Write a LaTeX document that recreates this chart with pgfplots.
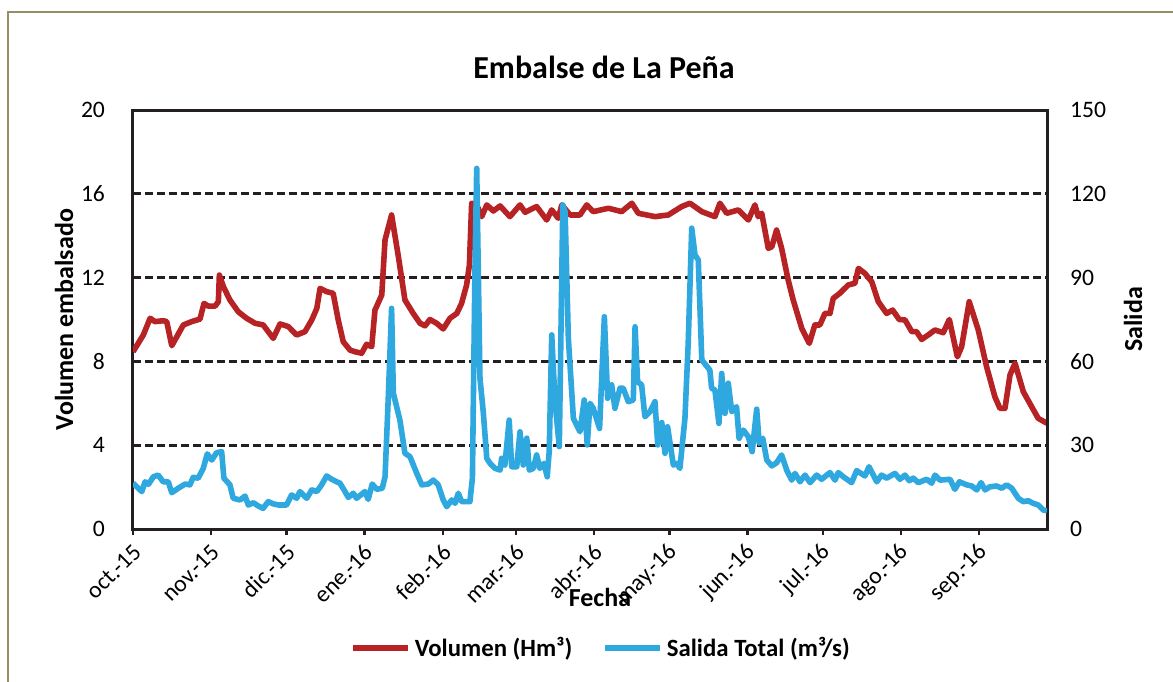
\documentclass[border=0pt]{standalone}
\usepackage{fontspec}
\setmainfont{Carlito}
\usepackage{pgfplots}
\usepackage{pgfplotstable}
\pgfplotsset{compat=1.18}

\definecolor{vol}{RGB}{183,34,36}
\definecolor{sal}{RGB}{46,168,222}
\definecolor{marco}{RGB}{150,143,100}
\definecolor{eje}{RGB}{35,31,32}

% dias desde 1-oct-2015, volumen (hm3)
\pgfplotstableread{
d v
0 8.46
4.1 9.26
6.8 10.06
8.7 9.90
12.0 9.94
13.4 9.90
15.4 8.75
17.4 9.18
20.0 9.74
23.3 9.90
26.6 10.02
28.2 10.77
29.9 10.64
32.6 10.64
33.9 10.85
34.3 12.12
35.9 11.57
38.5 10.93
41.8 10.37
45.1 10.06
48.5 9.82
51.7 9.74
55.7 9.10
58.4 9.79
61.7 9.66
65.0 9.26
68.3 9.42
71.0 9.98
73.0 10.53
74.3 11.49
76.9 11.33
79.5 11.25
81.5 9.98
83.5 8.94
86.2 8.54
88.2 8.46
90.8 8.39
92.8 8.82
94.8 8.70
96.1 10.45
98.8 11.17
100.1 13.80
102.7 14.99
105.4 13.00
108.0 10.93
111.3 10.29
114.0 9.82
116.0 9.70
117.9 10.00
120.6 9.82
123.2 9.55
125.9 10.06
128.6 10.29
130.5 10.77
132.5 11.65
133.6 12.60
134.5 15.55
136.5 15.47
138.5 14.91
140.5 15.47
143.1 15.18
145.8 15.42
149.7 14.91
153.7 15.47
155.7 15.12
160.3 15.39
164.3 14.75
166.3 15.23
168.9 14.83
170.3 15.47
173.6 14.99
177.5 14.99
180.2 15.47
182.8 15.15
188.8 15.31
194.1 15.15
198.1 15.55
200.7 15.07
207.3 14.91
212.6 14.99
217.9 15.39
221.2 15.55
225.9 15.15
231.1 14.91
233.1 15.55
235.8 15.07
240.4 15.23
244.4 14.75
247.0 15.47
248.3 14.91
249.7 15.07
252.3 13.40
253.7 13.47
255.6 14.27
257.6 13.40
260.2 11.89
262.2 10.93
265.6 9.58
268.6 8.86
270.8 9.74
272.8 9.74
274.8 10.29
276.8 10.29
278.1 11.01
280.7 11.25
284.1 11.65
286.7 11.73
288.1 12.44
290.7 12.20
293.4 11.80
296.0 10.85
299.3 10.29
301.7 10.45
304.3 10.00
306.6 9.98
309.3 9.42
311.2 9.42
313.2 9.05
315.8 9.26
318.5 9.50
321.8 9.37
324.2 10.00
327.4 8.22
329.1 8.70
332.1 10.85
335.7 9.50
339.0 7.75
342.3 6.31
344.3 5.76
346.3 5.76
348.3 7.35
350.3 7.91
353.6 6.55
356.9 5.84
359.5 5.28
363.0 5.05
}\volumen

% dias desde 1-oct-2015, salida total (m3/s)
\pgfplotstableread{
d s
0 16.4
3.5 13.4
4.8 16.9
6.1 16.0
8.1 18.7
10.0 19.3
12.0 16.9
14.0 16.9
15.4 13.0
18.0 14.6
20.7 16.1
22.6 15.8
23.9 18.5
25.9 18.2
27.9 21.7
29.5 26.9
31.3 24.7
33.2 27.3
35.2 27.7
36.1 18.2
38.5 15.8
39.8 11.0
42.5 10.4
44.5 11.8
45.8 8.6
47.8 9.4
49.8 8.2
51.7 7.4
53.7 9.8
55.7 9.0
57.7 8.6
61.0 8.6
63.0 12.2
65.0 11.0
66.3 13.4
69.0 11.0
71.0 14.0
73.0 13.4
74.9 15.8
76.9 19.0
78.9 17.8
80.9 16.9
82.2 16.4
84.2 13.4
85.5 11.3
87.5 12.8
88.8 11.0
92.1 13.4
93.4 10.6
95.0 16.1
96.8 14.2
99.0 14.6
100.1 18.7
101.4 47.4
102.7 79.0
103.4 48.6
106.0 39.0
108.0 27.1
110.0 25.9
112.7 19.9
114.7 15.8
117.3 16.1
119.3 17.5
121.2 15.8
123.2 10.4
124.6 8.0
126.6 10.4
127.9 9.2
129.2 12.8
130.5 9.8
133.8 9.8
134.8 18.2
135.8 92.1
136.5 129.1
137.8 53.9
139.1 42.0
140.5 25.3
141.8 23.5
143.8 21.7
145.8 21.1
146.4 25.3
147.7 22.9
149.4 39.0
150.4 22.3
152.4 22.3
153.7 34.8
155.0 22.9
156.4 32.5
157.4 21.1
159.0 21.7
160.3 26.5
161.6 21.7
163.2 23.5
164.5 18.7
165.3 27.7
166.3 69.5
167.6 45.6
169.3 29.5
170.7 116.0
171.6 113.6
172.9 68.3
174.9 39.6
177.5 34.8
179.2 46.2
180.4 30.1
181.5 45.0
182.8 43.2
183.9 40.0
185.3 36.0
187.2 76.0
188.5 46.8
190.1 51.6
191.4 43.2
193.4 50.4
194.7 50.4
196.7 45.6
198.7 46.2
199.4 72.4
200.4 52.7
202.0 51.6
203.3 40.2
205.3 42.0
207.3 45.6
208.4 30.1
210.0 38.1
211.3 27.1
212.3 36.6
214.6 22.9
215.9 23.5
217.2 21.7
219.2 39.6
220.5 66.5
221.9 107.7
223.2 98.1
224.5 96.3
225.9 60.5
229.1 56.9
229.8 50.4
231.1 49.8
232.7 37.8
233.8 55.7
235.1 41.4
236.4 52.2
237.8 42.0
239.7 43.8
240.7 32.5
242.4 35.4
244.4 33.0
245.9 27.7
247.7 42.9
248.7 30.7
250.1 32.5
251.7 24.7
253.7 22.6
255.6 23.7
257.6 26.5
259.6 21.1
261.6 17.5
262.9 19.9
264.9 16.9
266.9 19.3
268.9 16.6
271.5 19.3
273.5 17.8
276.8 20.2
278.8 17.5
280.1 20.2
282.1 18.7
285.4 16.6
287.4 20.9
290.7 19.0
292.3 22.3
295.4 16.9
297.3 19.3
299.3 18.2
302.6 19.9
304.6 17.8
306.6 19.3
308.3 17.3
309.9 18.2
311.9 16.6
315.2 17.8
317.2 16.4
318.5 19.3
320.5 17.5
324.5 17.8
326.4 14.2
328.2 16.9
331.1 15.8
333.1 15.4
335.1 14.0
336.8 16.6
338.4 14.0
340.3 15.1
343.0 15.4
345.0 14.6
347.0 15.8
349.0 14.6
351.6 11.0
353.6 9.8
355.6 10.1
357.5 9.2
359.5 8.6
361.5 6.8
363.0 6.5
}\salida

\pgfplotsset{
  base/.style={
    at={(0pt,0pt)}, anchor=south west,
    scale only axis, width=457pt, height=209.5pt,
    xmin=0, xmax=363,
    axis line style={eje, line width=1.5pt},
    tick label style={font=\fontsize{11.8}{14}\selectfont},
    /pgf/number format/assume math mode=true,
    ytick style={draw=none},
  },
}

\begin{document}
\begin{tikzpicture}
\useasboundingbox (-66.5pt,-76pt) rectangle (520pt,264.5pt);
\draw[marco, line width=1pt] (-62.5pt,-90pt) -- (-62.5pt,258.5pt) -- (530pt,258.5pt);

\begin{axis}[base,
  ymin=0, ymax=20, ytick={0,4,...,20},
  xtick pos=bottom, ytick pos=left,
  xtick={0,31,61,92,123,152,183,213,244,274,305,336},
  xticklabels={oct.-15,nov.-15,dic.-15,ene.-16,feb.-16,mar.-16,abr.-16,may.-16,jun.-16,jul.-16,ago.-16,sep.-16},
  tick align=outside, major tick length=3pt,
  xtick style={eje, line width=1.2pt},
  xticklabel style={xshift=4.6pt, yshift=-4.3pt, rotate=45, anchor=east},
  yticklabel style={xshift=-7.5pt},
  ymajorgrids, grid style={eje, line width=1.4pt, dash pattern=on 4pt off 2pt},
  title={Embalse de La Peña},
  every axis title/.style={at={(axis description cs:0.5,1)}, anchor=center,
    xshift=7pt, yshift=21.5pt, font=\bfseries\fontsize{16}{19}\selectfont},
  xlabel={Fecha},
  every axis x label/.style={at={(axis description cs:0.5,0)}, anchor=center,
    xshift=5pt, yshift=-34pt, font=\bfseries\fontsize{13}{15}\selectfont},
  ylabel={Volumen embalsado},
  every axis y label/.style={at={(axis description cs:0,0.5)}, xshift=-34.5pt,
    rotate=90, anchor=center, font=\bfseries\fontsize{13}{15}\selectfont},
  legend style={at={(axis description cs:0.5,0)}, anchor=center, xshift=6pt, yshift=-59.5pt,
    draw=none, fill=none, font=\bfseries\fontsize{12.4}{14}\selectfont,
    /tikz/every even column/.append style={column sep=13pt}},
  legend columns=2,
  legend image code/.code={\draw[#1, line width=2.8pt] (0pt,0pt) -- (27.5pt,0pt);},
]
\addplot[vol, line width=2.8pt, line join=round] table[x=d, y=v] {\volumen};
\addlegendentry{Volumen (Hm³)}
\addlegendimage{sal}
\addlegendentry{Salida Total (m³/s)}
\end{axis}

\begin{axis}[base,
  ymin=0, ymax=150, ytick={0,30,...,150},
  axis x line=none, axis y line*=right,
  yticklabel style={anchor=west, xshift=8pt},
  ylabel={Salida},
  every axis y label/.style={at={(axis description cs:1,0.5)}, xshift=43pt,
    rotate=90, anchor=center, font=\bfseries\fontsize{13}{15}\selectfont},
]
\addplot[sal, line width=2.8pt, line join=round] table[x=d, y=s] {\salida};
\end{axis}
\end{tikzpicture}
\end{document}
